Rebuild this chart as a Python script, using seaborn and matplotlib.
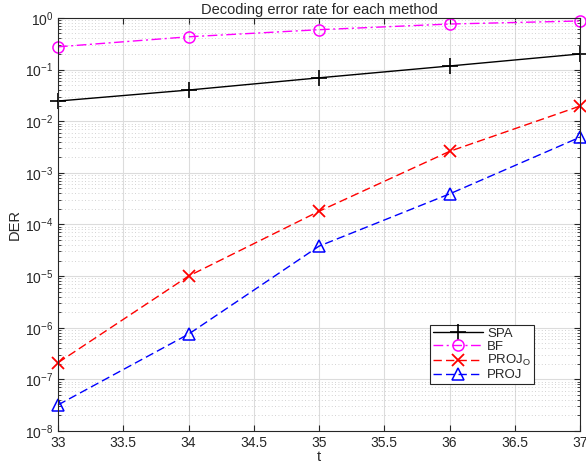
import matplotlib
matplotlib.use("Agg")
import matplotlib.pyplot as plt
import seaborn as sns
import numpy as np
import pandas as pd
from matplotlib.ticker import LogLocator, NullFormatter

sns.set_style("ticks")
plt.rcParams['font.family'] = ['Liberation Sans', 'DejaVu Sans']
plt.rcParams['mathtext.fontset'] = 'custom'
plt.rcParams['mathtext.rm'] = 'Liberation Sans'
plt.rcParams['mathtext.it'] = 'Liberation Sans'

t = [33, 34, 35, 36, 37]
spa = [0.0245, 0.040, 0.069, 0.117, 0.20]
bf = [0.275, 0.43, 0.59, 0.76, 0.87]
proj_o = [2.1e-7, 1.0e-5, 1.8e-4, 2.6e-3, 1.96e-2]
proj = [3.2e-8, 7.5e-7, 3.8e-5, 3.9e-4, 4.9e-3]

fig = plt.figure(figsize=(5.86, 4.70), dpi=100)
ax = fig.add_axes([0.099, 0.083, 0.891, 0.879])

dash = (0, (6, 3))
dashdot = (0, (7, 2.5, 1.5, 2.5))
series = [
    ("SPA", spa, "black", "-", "+", dict(markersize=11, markeredgewidth=1.2)),
    ("BF", bf, "#ff00ff", dashdot, "o", dict(markersize=8, markerfacecolor="none", markeredgewidth=1.1)),
    ("PROJ$_O$", proj_o, "red", dash, "x", dict(markersize=8, markeredgewidth=1.3)),
    ("PROJ", proj, "blue", dash, "^", dict(markersize=8.5, markerfacecolor="none", markeredgewidth=1.1)),
]
for name, vals, col, ls, mk, kw in series:
    df = pd.DataFrame({"t": t, "DER": vals})
    sns.lineplot(data=df, x="t", y="DER", ax=ax, color=col, linestyle=ls,
                 marker=mk, markeredgecolor=col, label=name, linewidth=1.0,
                 clip_on=False, **kw)

ax.set_yscale("log")
ax.set_xlim(33, 37)
ax.set_ylim(1e-8, 1)
ax.set_xticks([33, 33.5, 34, 34.5, 35, 35.5, 36, 36.5, 37])
ax.set_xticklabels(["33", "33.5", "34", "34.5", "35", "35.5", "36", "36.5", "37"])
ax.yaxis.set_major_locator(LogLocator(base=10, numticks=20))
ax.yaxis.set_minor_locator(LogLocator(base=10, subs=np.arange(2, 10), numticks=20))
ax.yaxis.set_minor_formatter(NullFormatter())
ax.grid(True, which="major", color="#dcdcdc", linewidth=0.8, linestyle="-")
ax.grid(True, which="minor", axis="y", color="#c4c4c4", linewidth=0.6, linestyle=(0, (1, 3)))
ax.set_axisbelow(True)
ax.tick_params(which="both", direction="in", top=True, right=True, labelsize=10, colors="#262626")
ax.tick_params(which="major", length=4)
ax.tick_params(which="minor", length=2)
for s in ax.spines.values():
    s.set_color("#262626")
    s.set_linewidth(0.8)
ax.set_title("Decoding error rate for each method", fontsize=10.5, pad=3)
ax.set_xlabel("t", fontsize=10.5, labelpad=0)
ax.set_ylabel("DER", fontsize=10.5, labelpad=2)
leg = ax.legend(loc="lower right", bbox_to_anchor=(0.924, 0.098), fontsize=9.5,
                frameon=True, fancybox=False, edgecolor="#262626", framealpha=1,
                handlelength=3.8, borderpad=0.2, labelspacing=0.05, handletextpad=0.3)
leg.get_frame().set_linewidth(0.8)
fig.savefig("out.png", dpi=100)
